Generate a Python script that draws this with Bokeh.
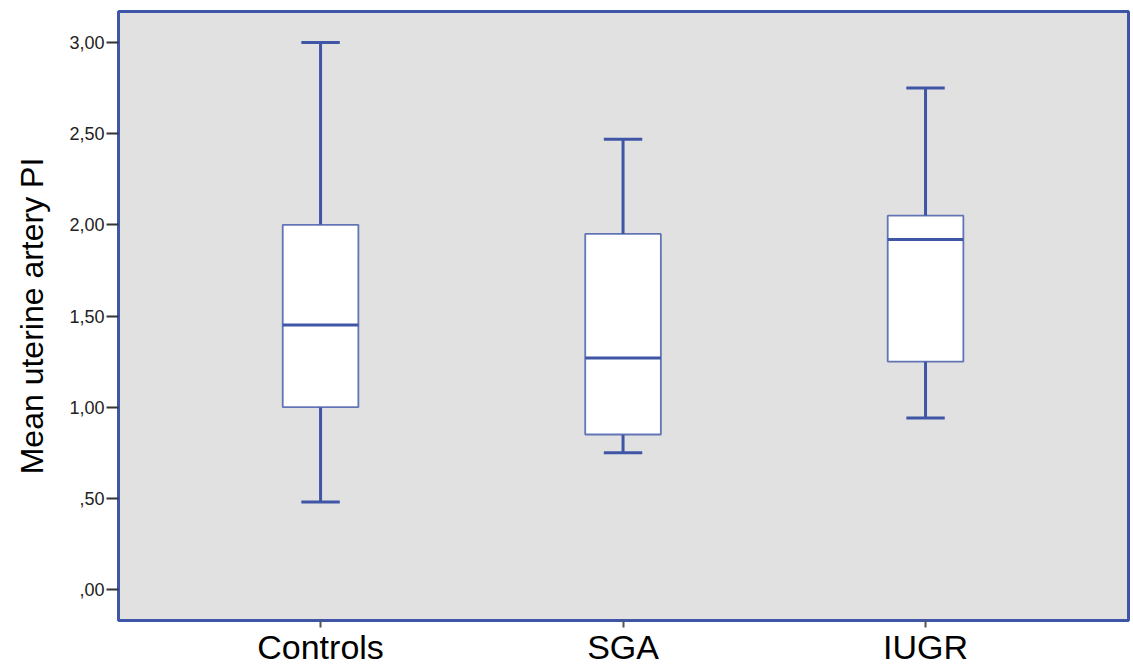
from bokeh.plotting import figure
from bokeh.models import FixedTicker
from bokeh.embed import file_html
from bokeh.resources import INLINE

categories = ["Controls", "SGA", "IUGR"]
positions = [1, 2, 3]
whisker_low = [0.48, 0.75, 0.94]
q1 = [1.00, 0.85, 1.25]
median = [1.45, 1.27, 1.92]
q3 = [2.00, 1.95, 2.05]
whisker_high = [3.00, 2.47, 2.75]

y_ticks = [0.0, 0.5, 1.0, 1.5, 2.0, 2.5, 3.0]
y_tick_labels = [",00", ",50", "1,00", "1,50", "2,00", "2,50", "3,00"]

BLUE = "#3f56a6"
FONT = "Liberation Sans"

p = figure(width=1131, height=668, output_backend="svg", toolbar_location=None,
           x_range=(0.332, 3.671), y_range=(-0.17, 3.17),
           min_border_left=118, min_border_top=11, min_border_right=3)

p.background_fill_color = "#e1e1e1"
p.border_fill_color = "white"
p.outline_line_color = BLUE
p.outline_line_width = 3
p.grid.visible = False

box_w = 0.25
cap_w = 0.127

# whiskers
p.segment(x0=positions, y0=q3, x1=positions, y1=whisker_high, line_color=BLUE, line_width=3)
p.segment(x0=positions, y0=whisker_low, x1=positions, y1=q1, line_color=BLUE, line_width=3)
# caps
p.segment(x0=[x - cap_w / 2 for x in positions], y0=whisker_high,
          x1=[x + cap_w / 2 for x in positions], y1=whisker_high, line_color=BLUE, line_width=3)
p.segment(x0=[x - cap_w / 2 for x in positions], y0=whisker_low,
          x1=[x + cap_w / 2 for x in positions], y1=whisker_low, line_color=BLUE, line_width=3)
# boxes
p.vbar(x=positions, width=box_w, bottom=q1, top=q3, fill_color="white",
       line_color=BLUE, line_width=1.8, line_alpha=0.8)
# medians
p.segment(x0=[x - box_w / 2 for x in positions], y0=median,
          x1=[x + box_w / 2 for x in positions], y1=median, line_color=BLUE, line_width=3)

# x axis
p.xaxis.ticker = FixedTicker(ticks=positions)
p.xaxis.major_label_overrides = {x: c for x, c in zip(positions, categories)}
p.xaxis.axis_line_color = None
p.xaxis.major_tick_in = 0
p.xaxis.major_tick_out = 7
p.xaxis.major_tick_line_color = "#555555"
p.xaxis.major_tick_line_width = 2
p.xaxis.minor_tick_line_color = None
p.xaxis.major_label_text_font = FONT
p.xaxis.major_label_text_font_size = "34px"
p.xaxis.major_label_text_color = "black"
p.xaxis.major_label_standoff = 0

# y axis
p.yaxis.ticker = FixedTicker(ticks=y_ticks)
p.yaxis.major_label_overrides = {t: l for t, l in zip(y_ticks, y_tick_labels)}
p.yaxis.axis_line_color = None
p.yaxis.major_tick_in = 0
p.yaxis.major_tick_out = 12
p.yaxis.major_tick_line_color = "#333333"
p.yaxis.major_tick_line_width = 2
p.yaxis.minor_tick_line_color = None
p.yaxis.major_label_text_font = FONT
p.yaxis.major_label_text_font_size = "18px"
p.yaxis.major_label_text_color = "#222222"
p.yaxis.major_label_standoff = 2
p.yaxis.axis_label = "Mean uterine artery PI"
p.yaxis.axis_label_text_font = FONT
p.yaxis.axis_label_text_font_size = "32px"
p.yaxis.axis_label_text_font_style = "normal"
p.yaxis.axis_label_text_color = "black"
p.yaxis.axis_label_standoff = 16

open("out.html", "w").write(file_html(p, INLINE))
